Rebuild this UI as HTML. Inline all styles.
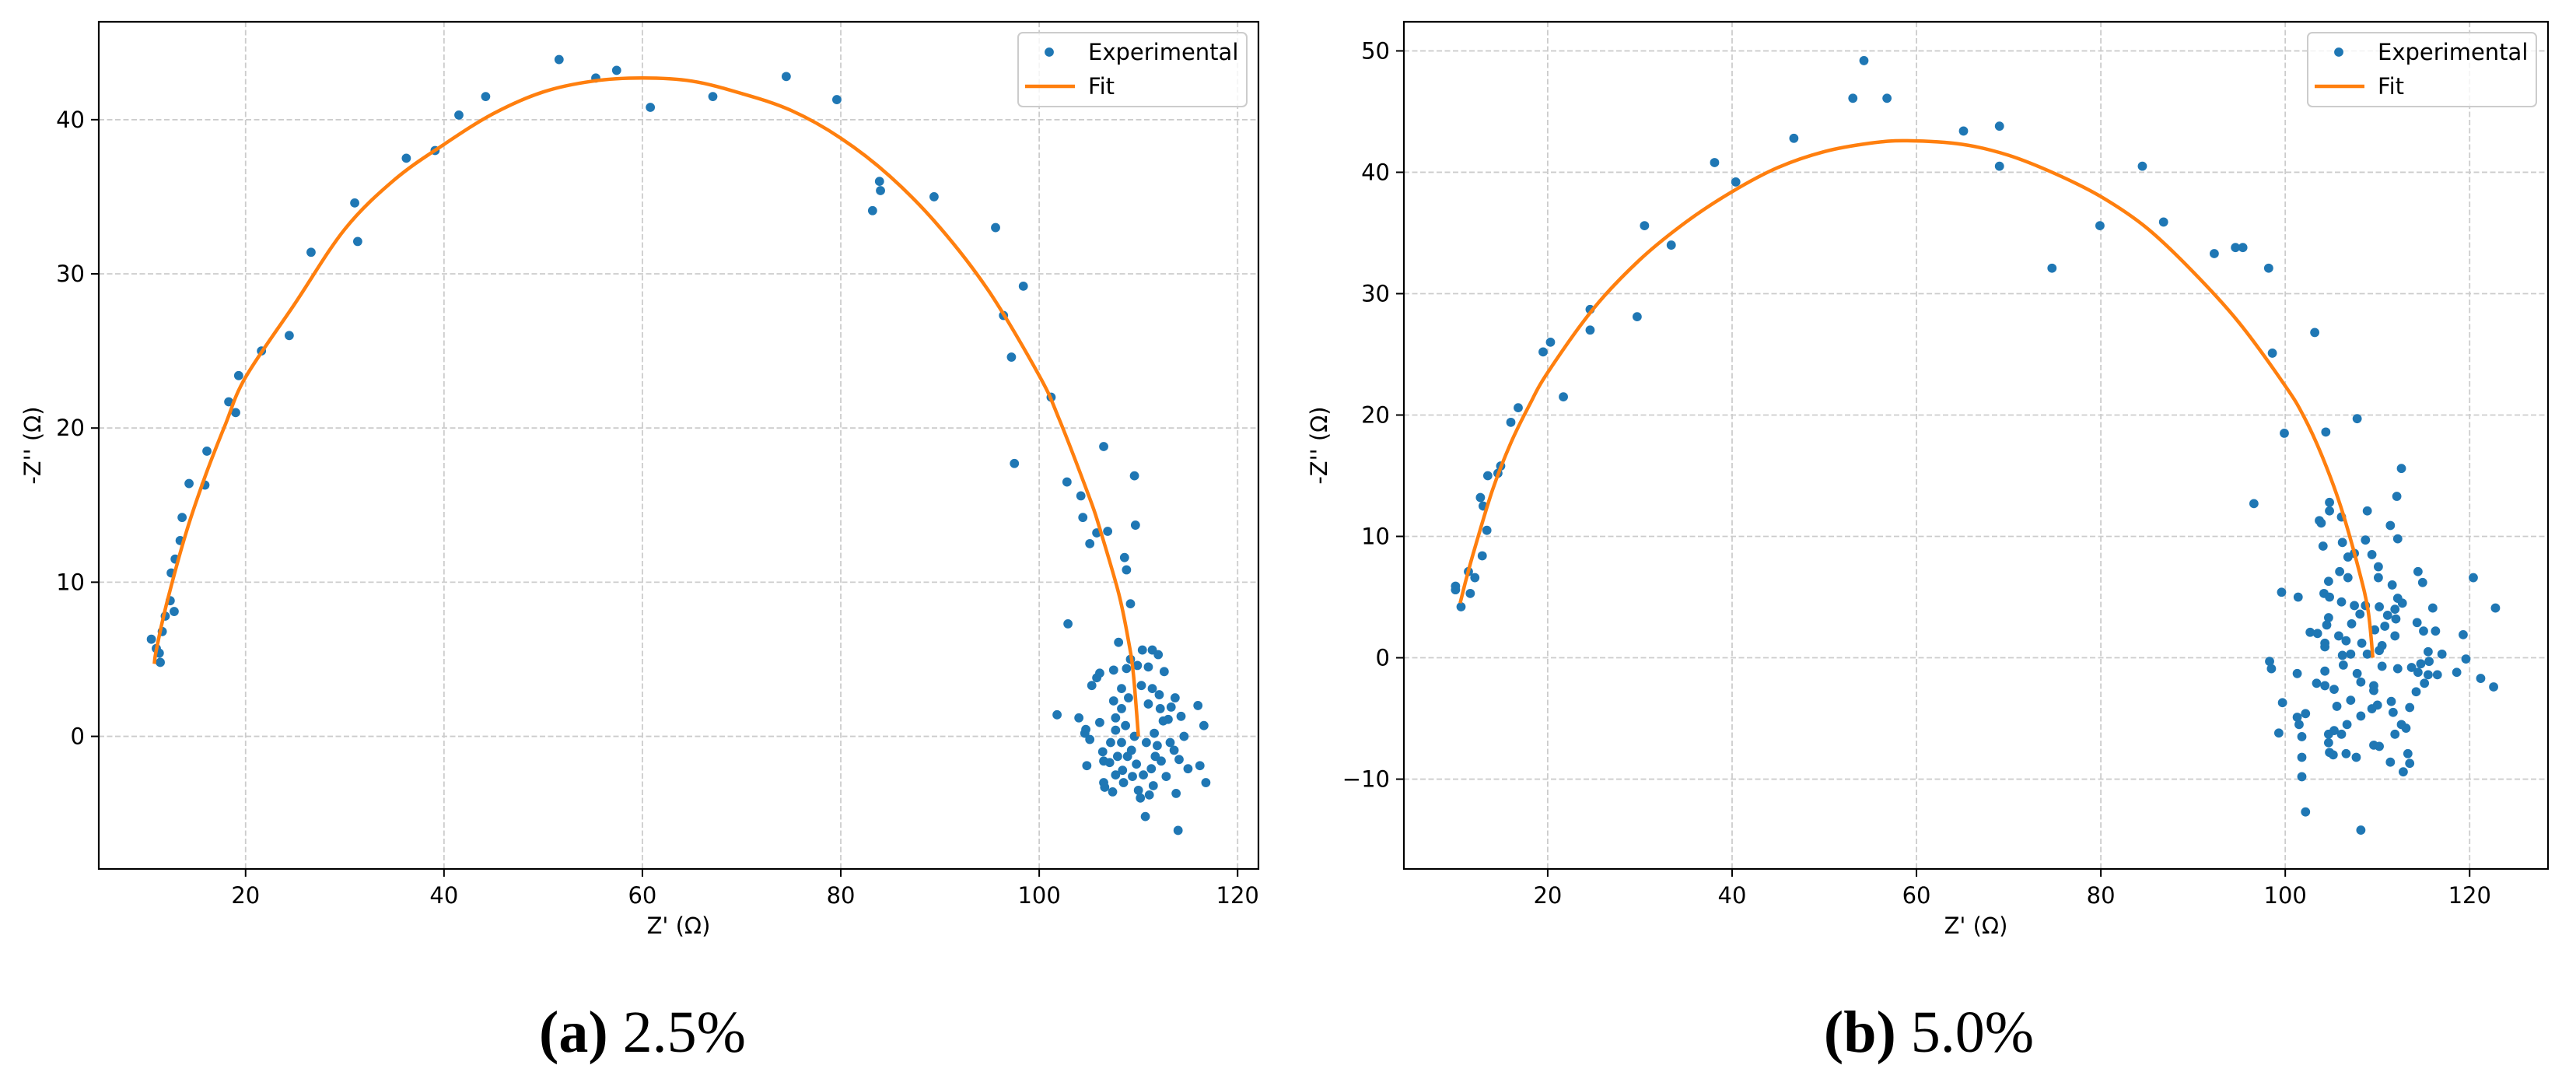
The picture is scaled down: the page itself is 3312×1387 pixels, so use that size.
<!DOCTYPE html>
<html><head><meta charset="utf-8"><style>
html,body{margin:0;padding:0;background:#fff;}
svg{display:block;}
text{font-family:"DejaVu Sans","Liberation Sans",sans-serif;}
.cap{font-family:"Liberation Serif",serif;}
</style></head><body>
<svg id="fig" width="3312" height="1387" viewBox="0 0 3312 1387" xmlns="http://www.w3.org/2000/svg"></svg>
<script>
// ---- Panel A data (2.5%) ----
const expAX = [10.5,11.0,11.3,11.4,11.6,11.9,12.4,12.8,12.5,12.9,13.4,13.6,14.3,15.9,16.1,18.3,19.0,19.3,21.6,24.4,26.6,31.0,31.3,36.2,39.1,41.5,44.2,51.6,55.3,57.4,60.8,67.1,74.5,79.6,83.2,83.9,84.0,89.4,95.6,96.4,97.2,97.5,98.4,101.2,101.8,102.8,102.9,104.2,104.4,105.1,105.8,106.9,106.5,108.6,108.8,109.2,109.6,109.7,108.0,
104.0,104.7,104.6,105.1,104.8,105.3,105.8,106.1,106.1,106.4,106.5,106.5,106.6,107.1,107.2,107.5,107.5,107.7,107.7,107.7,107.4,107.9,108.3,108.3,108.3,108.4,108.5,108.7,108.8,108.9,109.0,109.2,109.3,109.4,109.6,109.8,109.9,110.0,110.2,110.3,110.4,110.5,110.7,110.8,111.0,111.0,111.1,111.3,111.4,111.4,111.5,111.6,111.7,111.9,112.0,112.1,112.2,112.3,112.5,112.6,112.8,113.0,113.2,113.3,113.6,113.7,113.8,114.0,114.1,114.3,114.6,115.0,116.0,116.2,116.6,116.8];
const expAY = [6.3,5.7,5.4,4.8,6.8,7.8,8.8,8.1,10.6,11.5,12.7,14.2,16.4,16.3,18.5,21.7,21.0,23.4,25.0,26.0,31.4,34.6,32.1,37.5,38.0,40.3,41.5,43.9,42.7,43.2,40.8,41.5,42.8,41.3,34.1,36.0,35.4,35.0,33.0,27.3,24.6,17.7,29.2,22.0,1.4,16.5,7.3,15.6,14.2,12.5,13.2,13.3,18.8,11.6,10.8,8.6,16.9,13.7,6.1,
1.2,0.45,0.2,-0.2,-1.9,3.3,3.8,4.1,0.9,-1.0,-1.6,-3.0,-3.3,-1.7,-0.4,2.3,4.3,1.2,0.4,-2.5,-3.6,-1.3,3.1,1.8,-0.4,-2.2,-3.0,0.7,4.4,-1.3,2.5,5.0,-0.9,-2.6,0,-1.8,4.6,-3.5,-4.0,3.3,5.6,-2.5,-5.2,-0.4,2.1,4.5,-3.8,-2.1,3.1,5.6,-3.2,0.2,-1.3,-0.6,5.3,2.7,1.8,-1.6,1.0,4.2,-2.6,1.1,-0.4,1.9,-0.9,2.5,-3.7,-6.1,-1.5,1.3,0,-2.1,2.0,-1.9,0.7,-3.0];
const fitAX = [10.8,11,12,14,16,18,20,25,30,35,40,45,50,55,60,65,70,75,80,85,90,95,100,102,105,106,108,109,109.5,110];
const fitAY = [4.7,5.6,8.5,13.2,17.0,20.3,23.3,28.1,32.9,36.1,38.4,40.4,41.8,42.5,42.7,42.5,41.7,40.6,38.8,36.3,33.0,28.8,23.4,20.6,15.6,13.7,9.3,6.2,4.0,0];
const xTicksA = [20,40,60,80,100,120];
const yTicksA = [0,10,20,30,40];

// ---- Panel B data (5.0%) ----
const expBX = [10.0,10.0,10.6,11.4,11.6,12.1,12.7,12.9,13.0,13.4,13.5,14.6,14.9,16.0,16.8,19.5,20.3,21.7,24.6,24.6,29.7,30.5,33.4,38.1,40.4,46.7,53.1,54.3,56.8,65.1,69.0,69.0,74.7,79.9,84.5,86.8,92.3,94.6,95.4,98.2,98.6,103.2,99.9,104.4,107.8,96.6,112.6,
103.7,103.9,104.8,104.8,106.1,108.9,111.4,112.1,106.2,108.7,104.1,107.5,106.8,109.4,110.1,112.2,114.4,105.9,106.8,104.7,110.1,111.6,114.9,120.4,99.6,101.4,104.2,104.8,106.1,112.2,112.7,107.5,108.7,110.2,111.9,116.0,122.8,108.1,111.1,104.7,112.0,114.3,104.5,107.2,110.8,102.7,103.5,109.7,111.9,115.0,116.3,119.3,105.8,106.6,108.3,104.3,104.3,110.5,106.2,107.1,108.9,110.2,115.5,117.0,98.3,98.5,106.3,110.5,112.2,113.7,115.6,114.7,119.6,101.3,104.3,107.8,114.4,115.5,116.5,118.6,121.2,122.6,103.4,104.3,105.3,108.2,109.6,115.1,109.6,114.2,99.7,107.1,111.5,105.6,110.0,109.4,113.5,102.2,101.3,108.2,111.7,101.5,106.7,112.6,113.1,99.3,105.3,101.8,104.7,106.1,111.9,104.7,109.6,110.2,104.8,105.2,106.6,107.7,113.3,101.8,111.4,113.5,112.8,101.8,102.2,108.2];
const expBY = [5.9,5.6,4.2,7.1,5.3,6.6,13.2,8.4,12.5,10.5,15.0,15.2,15.8,19.4,20.6,25.2,26.0,21.5,28.7,27.0,28.1,35.6,34.0,40.8,39.2,42.8,46.1,49.2,46.1,43.4,43.8,40.5,32.1,35.6,40.5,35.9,33.3,33.8,33.8,32.1,25.1,26.8,18.5,18.6,19.7,12.7,15.6,
11.3,11.1,12.8,12.1,11.6,12.1,10.9,13.3,9.5,9.7,9.2,8.6,8.3,8.5,7.5,9.8,7.1,7.1,6.6,6.3,6.6,6.0,6.2,6.6,5.4,5.0,5.3,5.0,4.6,4.9,4.5,4.3,4.3,4.2,4.0,4.1,4.1,3.6,3.5,3.3,3.2,2.9,2.7,2.8,2.6,2.1,2.0,2.3,1.8,2.2,2.2,1.9,1.8,1.4,1.2,1.2,0.9,1.0,0.2,0.3,0.3,0.6,0.5,0.3,-0.3,-0.9,-0.6,-0.7,-0.9,-0.8,-0.3,-0.5,-0.1,-1.3,-1.1,-1.3,-1.2,-1.4,-1.4,-1.2,-1.7,-2.4,-2.1,-2.3,-2.6,-2.0,-2.3,-2.1,-2.7,-2.8,-3.7,-3.5,-3.6,-4.0,-3.9,-4.2,-4.1,-4.6,-4.9,-4.8,-4.5,-5.5,-5.5,-5.5,-5.8,-6.2,-6.0,-6.5,-6.3,-6.3,-6.3,-7.0,-7.2,-7.3,-7.8,-8.0,-7.9,-8.2,-7.9,-8.2,-8.6,-8.7,-9.4,-9.8,-12.7,-14.2];
const fitBX = [10.5,11.2,12,14,16,18,20,25,30,35,40,45,50,55,59,65,70,75,80,85,90,95,100,102,104,106,108,109,109.5];
const fitBY = [4.5,6.6,8.8,13.8,17.7,20.8,23.5,28.8,32.8,35.9,38.4,40.4,41.7,42.4,42.6,42.3,41.4,39.9,38.0,35.4,31.8,27.6,22.4,19.9,16.6,12.5,7.2,3.8,0];
const xTicksB = [20,40,60,80,100,120];
const yTicksB = [-10,0,10,20,30,40,50];

const NS = "http://www.w3.org/2000/svg";
const svg = document.getElementById('fig');
function mk(tag, attrs, parent){
  const e = document.createElementNS(NS, tag);
  for (const k in attrs) e.setAttribute(k, attrs[k]);
  (parent||svg).appendChild(e);
  return e;
}
function smoothPath(pts){
  let d = 'M'+pts[0][0].toFixed(1)+','+pts[0][1].toFixed(1);
  for (let i=0;i<pts.length-1;i++){
    const p0 = pts[Math.max(0,i-1)], p1 = pts[i], p2 = pts[i+1], p3 = pts[Math.min(pts.length-1,i+2)];
    const c1x = p1[0]+(p2[0]-p0[0])/6, c1y = p1[1]+(p2[1]-p0[1])/6;
    const c2x = p2[0]-(p3[0]-p1[0])/6, c2y = p2[1]-(p3[1]-p1[1])/6;
    d += ` C${c1x.toFixed(1)},${c1y.toFixed(1)} ${c2x.toFixed(1)},${c2y.toFixed(1)} ${p2[0].toFixed(1)},${p2[1].toFixed(1)}`;
  }
  return d;
}

function panel(cfg){
  const {L,R,T,B,xmin,xmax,ymin,ymax,ex,ey,fx,fy,xt,yt,caption,letter,key} = cfg;
  const g = mk('g',{});
  
  
  const sx = v => L + (v-xmin)/(xmax-xmin)*(R-L);
  const sy = v => B - (v-ymin)/(ymax-ymin)*(B-T);
  xt.forEach(t=>{
    const l = mk('line',{x1:sx(t),x2:sx(t),y1:T,y2:B,stroke:'#cccccc','stroke-width':1.8,'stroke-dasharray':'7,3.5'},g);
    
    
    const tk = mk('line',{x1:sx(t),x2:sx(t),y1:B,y2:B+10,stroke:'#000','stroke-width':2},g);
    
    
    const tx = mk('text',{x:sx(t),y:B+44,'font-size':29,'text-anchor':'middle',fill:'#000'},g);
    tx.textContent = t;
    
    
  });
  yt.forEach(t=>{
    const l = mk('line',{x1:L,x2:R,y1:sy(t),y2:sy(t),stroke:'#cccccc','stroke-width':1.8,'stroke-dasharray':'7,3.5'},g);
    
    
    const tk = mk('line',{x1:L-10,x2:L,y1:sy(t),y2:sy(t),stroke:'#000','stroke-width':2},g);
    
    
    const tx = mk('text',{x:L-18,y:sy(t)+10,'font-size':29,'text-anchor':'end',fill:'#000'},g);
    tx.textContent = t < 0 ? '\u2212'+Math.abs(t) : t;
    
    
  });
  ex.forEach((v,i)=>{
    const c = mk('circle',{cx:sx(v),cy:sy(ey[i]),r:5.9,fill:'#1f77b4'},g);
    
    
  });
  const pts = fx.map((v,i)=>[sx(v),sy(fy[i])]);
  const p = mk('path',{d:smoothPath(pts),fill:'none',stroke:'#ff7f0e','stroke-width':4.5,'stroke-linejoin':'round'},g);
  
  
  const fr = mk('rect',{x:L,y:T,width:R-L,height:B-T,fill:'none',stroke:'#000','stroke-width':2.2},g);
  
  
  const lg = mk('g',{},g);
  
  
  const lx = R-309, ly = T+14;
  mk('rect',{x:lx,y:ly,width:294,height:95,rx:6,fill:'#fff','fill-opacity':0.8,stroke:'#cccccc','stroke-width':2},lg);
  const lm = mk('circle',{cx:lx+40,cy:ly+25,r:5.9,fill:'#1f77b4'},lg);
  
  
  const lt1 = mk('text',{x:lx+90,y:ly+35,'font-size':29,fill:'#000'},lg);
  lt1.textContent='Experimental';
  
  
  const ll = mk('line',{x1:lx+9,x2:lx+73,y1:ly+69,y2:ly+69,stroke:'#ff7f0e','stroke-width':4.5},lg);
  
  
  const lt2 = mk('text',{x:lx+90,y:ly+79,'font-size':29,fill:'#000'},lg);
  lt2.textContent='Fit';
  
  
  const xl = mk('text',{x:(L+R)/2,y:1200,'font-size':29,'text-anchor':'middle',fill:'#000'},g);
  xl.textContent = "Z' (\u03A9)";
  
  
  const ylx = cfg.ylx;
  const yl = mk('text',{x:ylx,y:(T+B)/2,'font-size':29,'text-anchor':'middle',fill:'#000',transform:`rotate(-90 ${ylx} ${(T+B)/2})`},g);
  yl.textContent = "-Z'' (\u03A9)";
  
  
  const cp = mk('text',{x:cfg.capx,y:1352,'font-size':76,'text-anchor':'middle',fill:'#000','class':'cap'},g);
  const b = mk('tspan',{'font-weight':'600'},cp);
  b.textContent = '('+letter+')';
  const t2 = mk('tspan',{},cp);
  t2.textContent = ' '+caption;
  
  
}

panel({key:'a',L:127,R:1618,T:28,B:1117,xmin:5.2,xmax:122.1,ymin:-8.6,ymax:46.35,ex:expAX,ey:expAY,fx:fitAX,fy:fitAY,xt:xTicksA,yt:yTicksA,caption:'2.5%',letter:'a',ylx:52,capx:826});
panel({key:'b',L:1805,R:3276,T:28,B:1117,xmin:4.4,xmax:128.5,ymin:-17.4,ymax:52.4,ex:expBX,ey:expBY,fx:fitBX,fy:fitBY,xt:xTicksB,yt:yTicksB,caption:'5.0%',letter:'b',ylx:1706,capx:2480});
</script>
</body></html>
